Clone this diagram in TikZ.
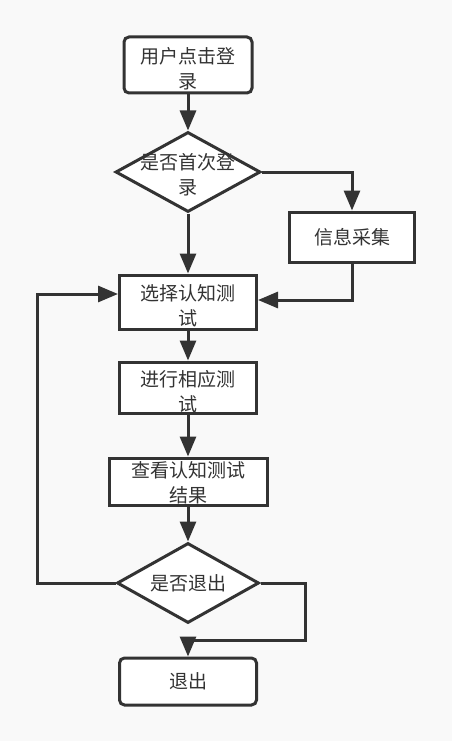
\documentclass[tikz,border=0pt]{standalone}
\usepackage{fontspec}
\newfontfamily\cjk{Noto Sans CJK SC}
\usetikzlibrary{arrows.meta,shapes.geometric}
\definecolor{bgc}{HTML}{F9F9F9}
\definecolor{lc}{HTML}{333333}
\definecolor{tc}{HTML}{333333}
\tikzset{
  shapebox/.style={draw=lc, fill=white, line width=3pt, inner sep=0pt, rectangle},
  roundbox/.style={shapebox, rounded corners=5pt},
  decision/.style={draw=lc, fill=white, line width=3pt, inner sep=0pt, diamond, shape aspect=1.8},
  lbl/.style={inner sep=0pt, text=tc, align=center, font=\cjk\fontsize{19}{25}\selectfont},
  arr/.style={draw=lc, line width=3pt, -{Triangle[length=20pt,width=16pt]}},
}
\begin{document}
\begin{tikzpicture}[x=1pt,y=-1pt]
\fill[bgc] (0,0) rectangle (452,741);
\useasboundingbox (0,0) rectangle (452,741);

\node[roundbox, minimum width=128pt, minimum height=56pt] (n1) at (188,65) {};
\node[decision, minimum width=145pt, minimum height=80pt] (d1) at (188,172) {};
\node[shapebox, minimum width=125pt, minimum height=50pt] (n2) at (352,237) {};
\node[shapebox, minimum width=137pt, minimum height=54pt] (n3) at (188,302) {};
\node[shapebox, minimum width=137pt, minimum height=51pt] (n4) at (188,387.5) {};
\node[shapebox, minimum width=158pt, minimum height=47pt] (n5) at (188,481.5) {};
\node[decision, minimum width=142pt, minimum height=80pt] (d2) at (188,583) {};
\node[roundbox, minimum width=137pt, minimum height=47pt] (n6) at (188,681.5) {};

\node[lbl] (t1) at ([yshift=-4pt]n1.center) {用户点击登\\录};
\node[lbl] (t2) at ([yshift=-3pt]d1.center) {是否首次登\\录};
\node[lbl] (t3) at (n2.center) {信息采集};
\node[lbl] (t4) at ([yshift=-4pt]n3.center) {选择认知测\\试};
\node[lbl] (t5) at ([yshift=-4pt]n4.center) {进行相应测\\试};
\node[lbl] (t6) at ([yshift=-1pt]n5.center) {查看认知测试\\结果};
\node[lbl] (t7) at (d2.center) {是否退出};
\node[lbl] (t8) at (n6.center) {退出};

\coordinate (lp) at (37,583);
\coordinate (rc) at (305,640);

\draw[arr] (n1.south) -- (d1.north);
\draw[arr] (d1.east) -| (n2.north);
\draw[arr] (d1.south) -- (n3.north);
\draw[arr] (n2.south) |- ([yshift=2pt]n3.east);
\draw[arr] (n3.south) -- (n4.north);
\draw[arr] (n4.south) -- (n5.north);
\draw[arr] (n5.south) -- (d2.north);
\draw[arr] (d2.west) -- (lp) |- ([yshift=8pt]n3.west);
\draw[arr] (d2.east) -| (rc) -| (n6.north);
\end{tikzpicture}
\end{document}
